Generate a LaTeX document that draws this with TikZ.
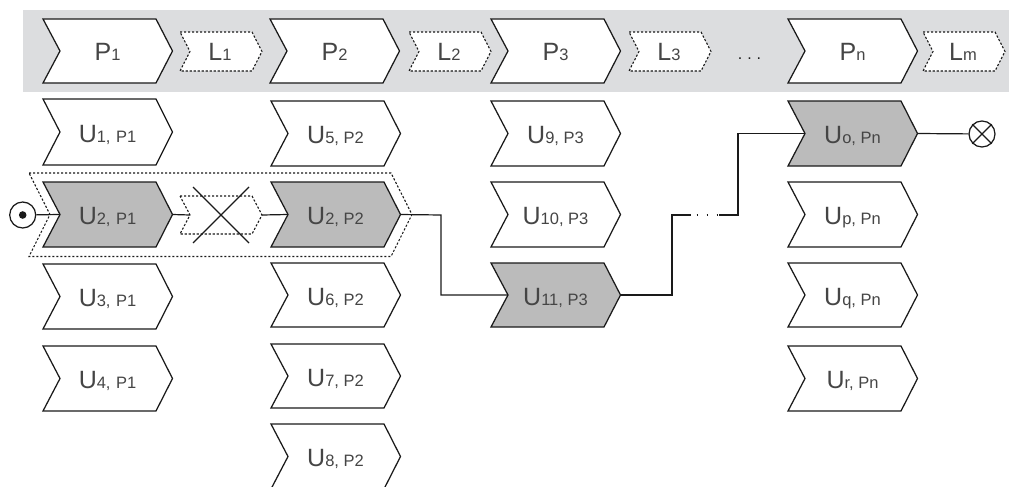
\documentclass[tikz,border=0pt]{standalone}
\usepackage{fontspec}
\setmainfont{Liberation Sans}
\definecolor{band}{HTML}{DCDDDF}
\definecolor{hi}{HTML}{BBBBBB}
\definecolor{txt}{HTML}{454545}
\definecolor{ln}{HTML}{1A1A1A}
\tikzset{
  chevline/.style={draw=ln,line width=1.25pt,line join=miter,fill=white},
  lossline/.style={draw=ln,line width=1.1pt,dash pattern=on 2.2pt off 1.8pt,fill=white},
  wire/.style={draw=ln,line width=1.2pt},
  lbl/.style={inner sep=0pt,text=txt,anchor=base,font=\fontsize{25}{25}\selectfont},
  termin/.style={draw=ln,line width=1.25pt,circle,minimum size=26pt,inner sep=0pt,fill=white},
}
\newcommand{\Sb}[1]{{\fontsize{16.5}{16.5}\selectfont #1}}
% \chev{name}{left x}{top y}{height}{label}{style}
\newcommand{\chev}[6]{%
  \path[#6] (#2,#3) -- ++(113,0) -- ++(16.5,#4/2) -- ++(-16.5,#4/2) -- ++(-113,0) -- ++(17,-#4/2) -- cycle;
  \coordinate (#1-in) at (#2+17,#3+#4/2);
  \coordinate (#1-out) at (#2+129.5,#3+#4/2);
  \node[lbl] (#1) at (#2+64.5,#3+#4/2+10) {#5};
}
% \lossbox{name}{left x}{label}
\newcommand{\lossbox}[3]{%
  \path[lossline] (#2,32) -- ++(72,0) -- ++(10,19.5) -- ++(-10,19.5) -- ++(-72,0) -- ++(10,-19.5) -- cycle;
  \coordinate (#1-in) at (#2+10,51.5);
  \coordinate (#1-out) at (#2+82,51.5);
  \node[lbl] (#1) at (#2+40,61) {#3};
}
\begin{document}
\begin{tikzpicture}[x=1pt,y=-1pt]
\useasboundingbox (0,0) rectangle (1009,487);
\clip (0,0) rectangle (1009,487);
\fill[band] (23,10) rectangle (1009,92);
% header
\chev{p1}{43}{19}{64}{P\Sb{1}}{chevline}
\chev{p2}{270}{19}{64}{P\Sb{2}}{chevline}
\chev{p3}{491}{19}{64}{P\Sb{3}}{chevline}
\chev{pn}{788}{19}{64}{P\Sb{n}}{chevline}
\lossbox{l1}{180}{L\Sb{1}}
\lossbox{l2}{409}{L\Sb{2}}
\lossbox{l3}{629}{L\Sb{3}}
\lossbox{lm}{923}{L\Sb{m}}
\node[lbl,text=ln,font=\fontsize{16}{16}\selectfont] (dots) at (749.5,59.5) {.\hspace{5pt}.\hspace{5pt}.};
% terminals
\node[termin] (start) at (22.7,215) {};
\fill[ln] (start.center) circle (3.8);
\node[termin] (end) at (982,134) {};
\draw[ln,line width=1.1pt] (end.north west) -- (end.south east) (end.north east) -- (end.south west);
% dotted envelope
\path[draw=ln,line width=1.1pt,dash pattern=on 2.2pt off 1.8pt] (29,173) -- (391,173) -- (412,214.5) -- (391,256.5) -- (29,256.5) -- (50,214.5) -- cycle;
% column 1
\chev{u1}{43}{99}{66}{U\Sb{1,\,\,P1}}{chevline}
\chev{u2a}{43}{182}{65}{U\Sb{2,\,\,P1}}{chevline,fill=hi}
\chev{u3}{43}{264}{65}{U\Sb{3,\,\,P1}}{chevline}
\chev{u4}{43}{346}{65}{U\Sb{4,\,\,P1}}{chevline}
% column 2
\chev{u5}{271}{101}{65}{U\Sb{5, P2}}{chevline}
\chev{u2b}{271}{182}{65}{U\Sb{2, P2}}{chevline,fill=hi}
\chev{u6}{271}{263}{64}{U\Sb{6, P2}}{chevline}
\chev{u7}{271}{344}{64}{U\Sb{7, P2}}{chevline}
\chev{u8}{271}{424}{65}{U\Sb{8, P2}}{chevline}
% column 3
\chev{u9}{491}{101}{65}{U\Sb{9, P3}}{chevline}
\chev{u10}{491}{182}{65}{U\Sb{10, P3}}{chevline}
\chev{u11}{491}{263}{64}{U\Sb{11, P3}}{chevline,fill=hi}
% column 4
\chev{uo}{788}{101}{65}{U\Sb{o, Pn}}{chevline,fill=hi}
\chev{up}{788}{182}{65}{U\Sb{p, Pn}}{chevline}
\chev{uq}{788}{263}{64}{U\Sb{q, Pn}}{chevline}
\chev{ur}{788}{346}{65}{U\Sb{r, Pn}}{chevline}
% crossed loss
\path[lossline,fill=none] (180,196) -- ++(72,0) -- ++(10,19) -- ++(-10,19) -- ++(-72,0) -- ++(10,-19) -- cycle;
\coordinate (xa) at (190,215);
\coordinate (xb) at (262,215);
\draw[ln,line width=1.1pt] (193,187) -- (249,243) (249,187) -- (193,243);
% connectors
\draw[wire] (start) -- (u2a-in);
\draw[wire] (u2a-out) -- (xa);
\draw[wire] (xb) -- (u2b-in);
\coordinate (c1) at (441,215);
\draw[wire] (u2b-out) -- (c1) -- (c1 |- u11-in) -- (u11-in);
\coordinate (c2) at (672,215);
\coordinate (c3) at (691,215);
\coordinate (d1) at (696.5,215);
\coordinate (d2) at (719,215);
\coordinate (c5) at (719,215);
\coordinate (c4) at (738,215);
\draw[wire] (u11-out) -- (u11-out -| c2) -- (c2) -- (c3);
\draw[draw=ln,line width=1.5pt,dash pattern=on 1.5pt off 8.5pt] (d1) -- (d2);
\draw[wire] (c5) -- (c4) -- (c4 |- uo-in) -- (uo-in);
\draw[wire] (uo-out) -- (end);
\end{tikzpicture}
\end{document}
